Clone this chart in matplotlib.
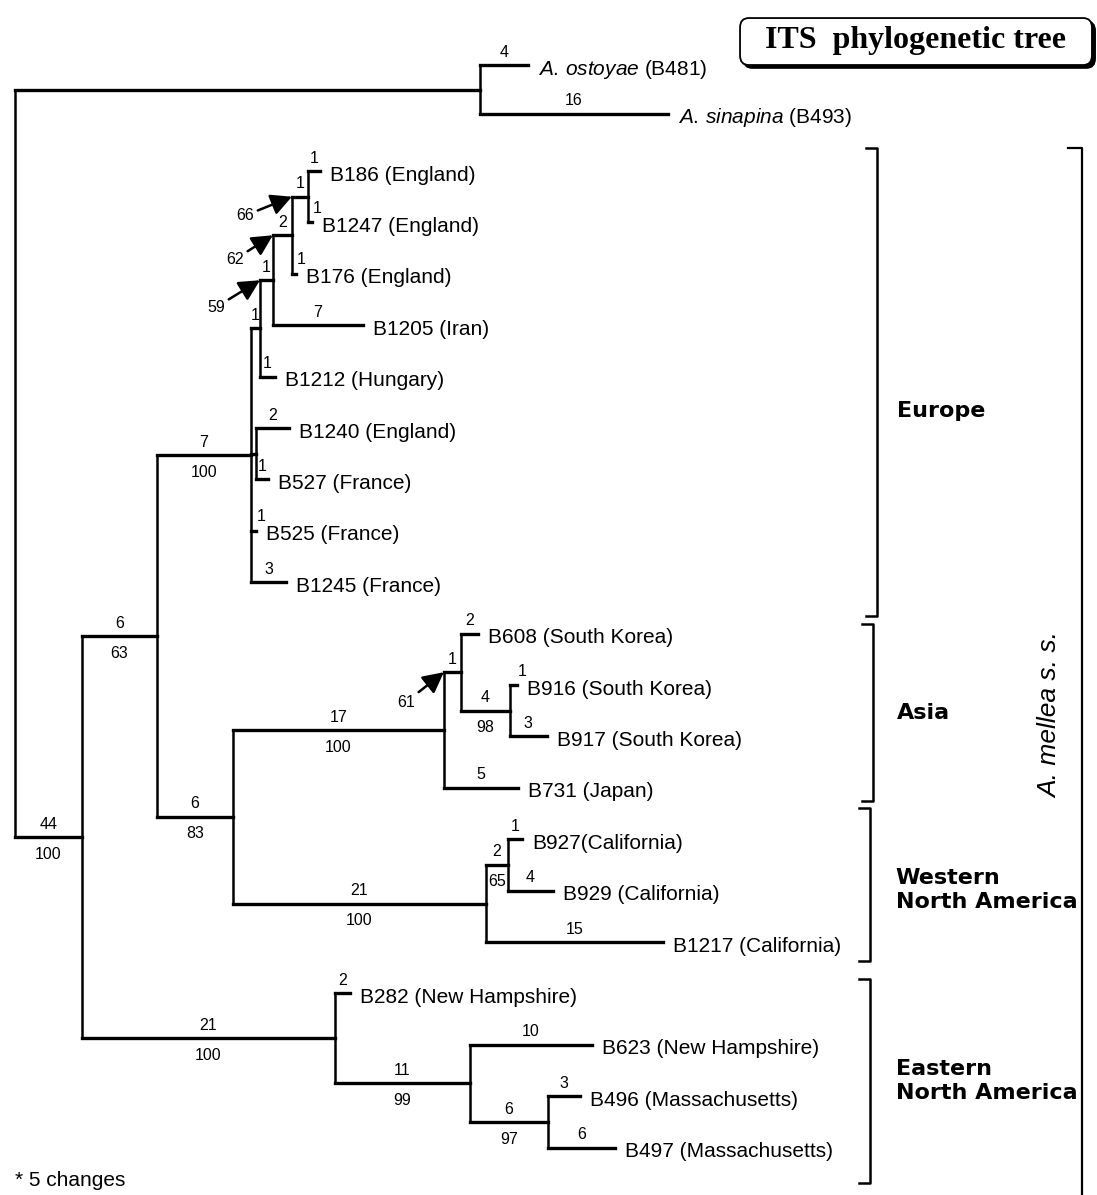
import matplotlib
matplotlib.use('Agg')
import matplotlib.pyplot as plt
from matplotlib.patches import FancyBboxPatch

plt.rcParams['font.family'] = ['Liberation Sans', 'DejaVu Sans']
plt.rcParams['mathtext.fontset'] = 'custom'
plt.rcParams['mathtext.rm'] = 'Liberation Sans'
plt.rcParams['mathtext.it'] = 'Liberation Sans:italic'

# ---- tree branches (child, parent), parents listed before children ----
node_names = ['O', 'ostoyae', 'sinapina', 'A', 'B', 'E0', 'E1', 'E2', 'E3', 'E4',
              'B186', 'B1247', 'B176', 'B1205', 'B1212', 'P', 'B1240', 'B527',
              'B525', 'B1245', 'C', 'D', 'D2', 'B608', 'D3', 'B916', 'B917',
              'B731', 'W', 'W2', 'B927', 'B929', 'B1217', 'En', 'B282', 'En1',
              'B623', 'En2', 'B496', 'B497']
parent_names = ['root', 'O', 'O', 'root', 'A', 'B', 'E0', 'E1', 'E2', 'E3',
                'E4', 'E4', 'E3', 'E2', 'E1', 'E0', 'P', 'P',
                'E0', 'E0', 'B', 'C', 'D', 'D2', 'D2', 'D3', 'D3',
                'D', 'C', 'W', 'W2', 'W2', 'W', 'A', 'En', 'En',
                'En1', 'En1', 'En2', 'En2']
# drawn branch lengths (in changes)
branch_len = [38.75, 4.0, 15.67, 5.58, 6.25, 7.83, 0.75, 1.08, 1.58, 1.33,
              1.0, 0.33, 0.33, 7.5, 1.25, 0.42, 2.75, 1.0,
              0.42, 2.92, 6.33, 17.58, 1.42, 1.42, 4.08, 0.58, 3.08,
              6.17, 21.08, 1.83, 1.17, 3.75, 14.75, 21.08, 1.25, 11.25,
              10.17, 6.5, 2.67, 5.58]
# number of changes printed above each branch
change_lbl = ['', '4', '16', '44', '6', '7', '1', '1', '2', '1',
              '1', '1', '1', '7', '1', '', '2', '1',
              '1', '3', '6', '17', '1', '2', '4', '1', '3',
              '5', '21', '2', '1', '4', '15', '21', '2', '11',
              '10', '6', '3', '6']
# bootstrap values printed below branches
boot_nodes = ['A', 'B', 'E0', 'C', 'D', 'W', 'D3', 'W2', 'En', 'En1', 'En2']
boot_vals = ['100', '63', '100', '83', '100', '100', '98', '65', '100', '99', '97']
# bootstrap values shown with arrows
arrow_nodes = ['E2', 'E3', 'E4', 'D2']
arrow_vals = ['59', '62', '66', '61']
arrow_off = [(-44, -27), (-38, -24), (-47, -19), (-38, -30)]

# ---- leaves ----
leaf_names = ['ostoyae', 'sinapina', 'B186', 'B1247', 'B176', 'B1205', 'B1212',
              'B1240', 'B527', 'B525', 'B1245', 'B608', 'B916', 'B917', 'B731',
              'B927', 'B929', 'B1217', 'B282', 'B623', 'B496', 'B497']
leaf_rows = [-2.06, -1.11, 0, 1, 2, 3, 4, 5, 6, 7, 8, 9, 10, 11, 12,
             13, 14, 15, 16, 17, 18, 19]
leaf_text = [r'$\it{A.\,ostoyae}$ (B481)', r'$\it{A.\,sinapina}$ (B493)',
             'B186 (England)', 'B1247 (England)', 'B176 (England)', 'B1205 (Iran)',
             'B1212 (Hungary)', 'B1240 (England)', 'B527 (France)', 'B525 (France)',
             'B1245 (France)', 'B608 (South Korea)', 'B916 (South Korea)',
             'B917 (South Korea)', 'B731 (Japan)', 'B927(California)',
             'B929 (California)', 'B1217 (California)', 'B282 (New Hampshire)',
             'B623 (New Hampshire)', 'B496 (Massachusetts)', 'B497 (Massachusetts)']

# ---- geographic groups ----
region_names = ['Europe', 'Asia', 'Western\nNorth America', 'Eastern\nNorth America']
region_top = [-0.45, 8.81, 12.39, 15.72]
region_bot = [8.66, 12.26, 15.37, 19.69]

# layout
fig = plt.figure(figsize=(10.97, 11.95), dpi=100)
ax = fig.add_axes([0, 0, 1, 1])
ax.set_xlim(-1.25, 90.17)
ax.set_ylim(19.92, -3.327)
ax.axis('off')

# node positions
xpos = {'root': 0.0}
for n, p, L in zip(node_names, parent_names, branch_len):
    xpos[n] = xpos[p] + L
ypos = dict(zip(leaf_names, leaf_rows))
kids = {}
for n, p in zip(node_names, parent_names):
    kids.setdefault(p, []).append(n)


def gety(n):
    if n not in ypos:
        ys = [gety(k) for k in kids[n]]
        ypos[n] = (min(ys) + max(ys)) / 2
    return ypos[n]


gety('root')

# vertical connectors
for p, ch in kids.items():
    ys = [ypos[k] for k in ch]
    ax.plot([xpos[p], xpos[p]], [min(ys), max(ys)], color='black', lw=1.8,
            solid_capstyle='projecting')
# horizontal branches + labels
for n, p, lab in zip(node_names, parent_names, change_lbl):
    x0, x1, y = xpos[p], xpos[n], ypos[n]
    ax.plot([x0, x1], [y, y], color='black', lw=2.4, solid_capstyle='projecting')
    if lab:
        if n in leaf_names and (x1 - x0) < 0.67:
            ax.annotate(lab, (x1, y), xytext=(5, 14), textcoords='offset pixels',
                        ha='center', va='center', fontsize=11.5)
        else:
            ax.annotate(lab, ((x0 + x1) / 2, y), xytext=(0, 13),
                        textcoords='offset pixels', ha='center', va='center',
                        fontsize=11.5)

for n, b in zip(boot_nodes, boot_vals):
    xm = (xpos[n] + xpos[parent_names[node_names.index(n)]]) / 2
    ax.annotate(b, (xm, ypos[n]), xytext=(0, -17), textcoords='offset pixels',
                ha='center', va='center', fontsize=11.5)

for n, b, off in zip(arrow_nodes, arrow_vals, arrow_off):
    xp = xpos[parent_names[node_names.index(n)]]
    ax.annotate(b, (xp, ypos[n]), xytext=off, textcoords='offset pixels',
                ha='center', va='center', fontsize=11.5,
                arrowprops=dict(arrowstyle='-|>,head_length=0.7,head_width=0.36',
                                color='black', lw=1.8, shrinkA=1, shrinkB=0,
                                mutation_scale=18))

# leaf names
for n, t in zip(leaf_names, leaf_text):
    ax.annotate(t, (xpos[n], ypos[n]), xytext=(10, -4), textcoords='offset pixels',
                ha='left', va='center', fontsize=15)

# region brackets
br_x = [71.8, 71.5, 71.25, 71.25]
for name, t, b, bx in zip(region_names, region_top, region_bot, br_x):
    ax.plot([bx - 0.9, bx, bx, bx - 0.9], [t, t, b, b], color='black', lw=1.8)
reg_pos = [(73.5, 4.67), (73.5, 10.54), (73.4, 13.99), (73.4, 17.70)]
for name, (rx, ry) in zip(region_names, reg_pos):
    ax.text(rx, ry, name, ha='left', va='center', fontsize=16, fontweight='bold',
            family='DejaVu Sans', linespacing=1.25)

# A. mellea s. s. bracket
ax.plot([87.75, 88.92, 88.92], [-0.45, -0.45, 20.5], color='black', lw=1.6)
ax.text(86.25, 10.58, 'A. mellea s. s.', rotation=90, ha='center', va='center',
        fontsize=19, style='italic')

# scale note
ax.text(0.0, 19.63, '* 5 changes', ha='left', va='center', fontsize=15)

# title box with a small shadow
shadow = FancyBboxPatch((0.6776, 0.9430), 0.3208, 0.0393,
                        boxstyle='round,pad=0,rounding_size=0.008',
                        transform=fig.transFigure, facecolor='black',
                        edgecolor='black', lw=1)
box = FancyBboxPatch((0.6746, 0.9456), 0.3208, 0.0393,
                     boxstyle='round,pad=0,rounding_size=0.008',
                     transform=fig.transFigure, facecolor='white',
                     edgecolor='black', lw=1.3)
fig.patches.extend([shadow, box])
fig.text(0.835, 0.9657, 'ITS  phylogenetic tree', ha='center', va='center',
         fontsize=23, fontweight='bold', family='Liberation Serif')

fig.savefig('out.png', dpi=100)
